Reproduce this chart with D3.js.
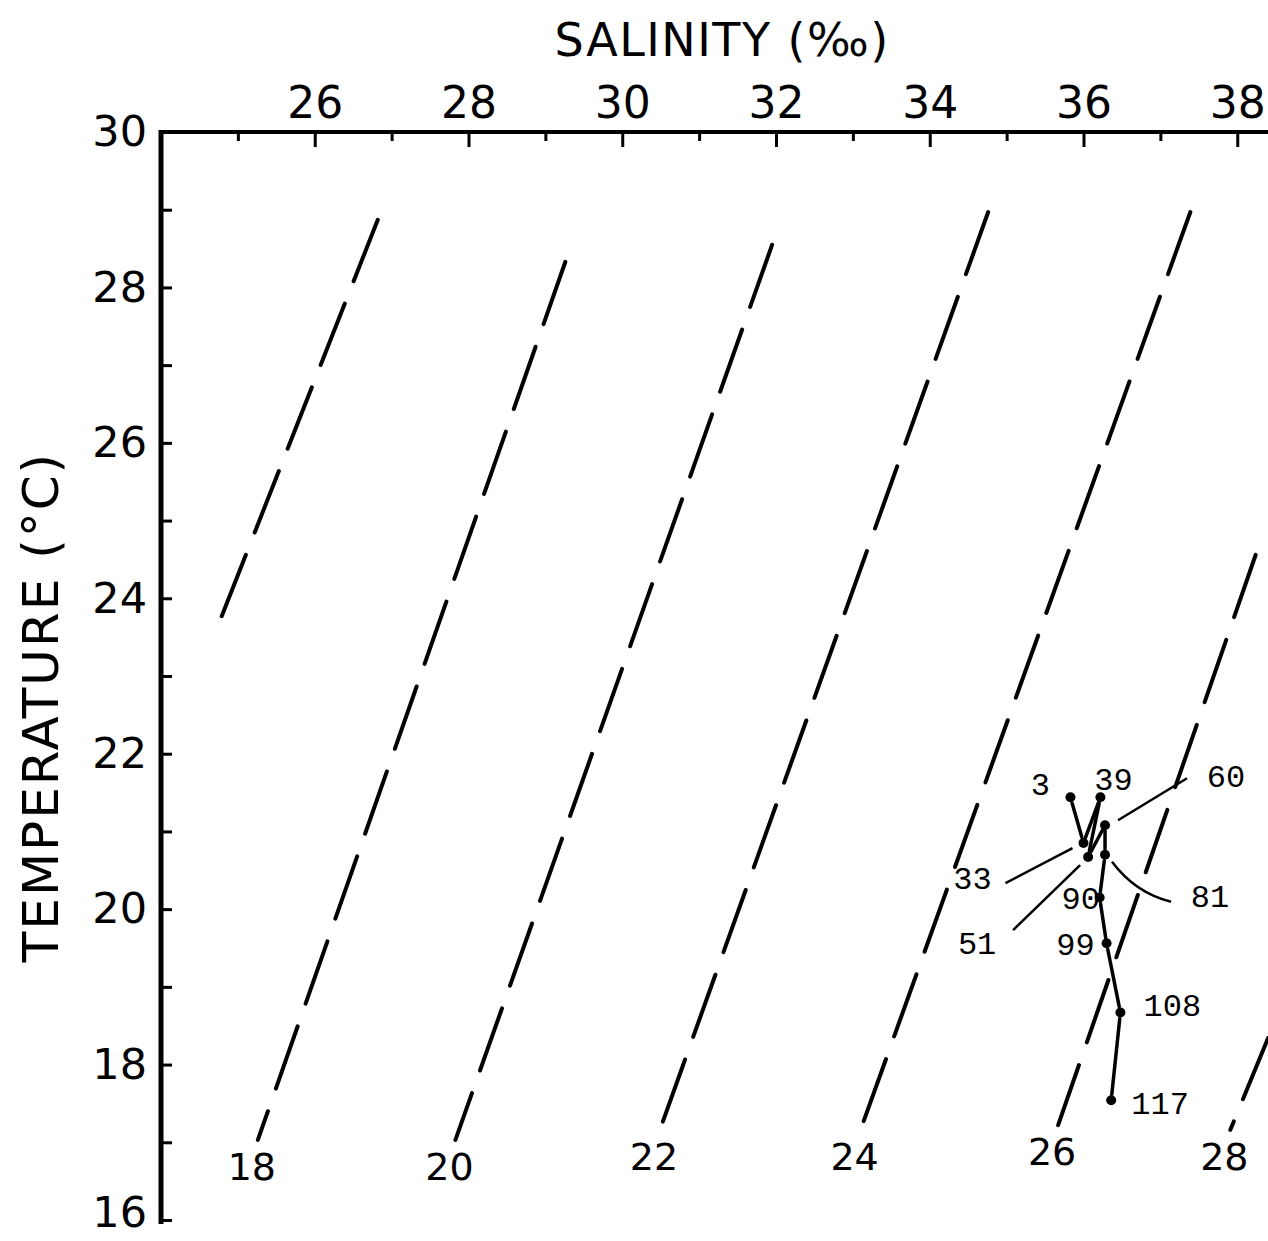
<!DOCTYPE html>
<html lang="en">
<head>
  <meta charset="UTF-8">
  <title>T-S diagram</title>
  <style>
    body { margin: 0; background: #fff; }
  </style>
</head>
<body>
  <script src="https://d3js.org/d3.v7.min.js"></script>
  <script>
    // salinity / temperature ticks
    const salTicks = [26, 28, 30, 32, 34, 36, 38];
    const salMinor = [25, 26, 27, 28, 29, 30, 31, 32, 33, 34, 35, 36, 37, 38];
    const tempTicks = [16, 18, 20, 22, 24, 26, 28, 30];
    const tempMinor = [16, 17, 18, 19, 20, 21, 22, 23, 24, 25, 26, 27, 28, 29, 30];

    // sigma-t isopycnals: [S, T] at low end and high end
    const sigmaT = [16, 18, 20, 22, 24, 26, 28];
    const isoLow = [[24.77, 23.72], [25.26, 17.03], [27.83, 17.03], [30.49, 17.16], [33.10, 17.16], [35.67, 17.22], [37.91, 17.16]];
    const isoHigh = [[26.82, 28.87], [29.26, 28.33], [31.95, 28.55], [34.76, 28.97], [37.39, 28.97], [38.24, 24.56], [38.40, 18.34]];

    // station profile (depth in m)
    const depths = [3, 33, 39, 51, 60, 81, 90, 99, 108, 117];
    const salinity = [35.83, 36.00, 36.22, 36.06, 36.28, 36.28, 36.21, 36.30, 36.48, 36.36];
    const temperature = [21.44, 20.85, 21.44, 20.67, 21.08, 20.70, 20.15, 19.56, 18.67, 17.54];

    const [width, height] = [1268, 1241];
    const x = d3.scaleLinear().domain([24, 38.4]).range([161, 1268]);
    const y = d3.scaleLinear().domain([16, 30]).range([1220, 132]);

    const svg = d3.select(document.body)
      .append("svg")
      .attr("width", width)
      .attr("height", height)
      .attr("viewBox", [0, 0, width, height]);

    const letter = "'DejaVu Sans', sans-serif";
    const typewriter = "'Liberation Mono', 'DejaVu Sans Mono', monospace";

    svg.append("defs").append("clipPath").attr("id", "plot")
      .append("rect")
      .attr("x", x(24)).attr("y", y(30))
      .attr("width", width - x(24)).attr("height", y(16) - y(30));

    // isopycnals
    const iso = sigmaT.map((s, i) => ({ s, a: isoLow[i], b: isoHigh[i] }));
    svg.append("g")
      .attr("clip-path", "url(#plot)")
      .selectAll("line")
      .data(iso)
      .join("line")
      .attr("x1", d => x(d.b[0])).attr("y1", d => y(d.b[1]))
      .attr("x2", d => x(d.a[0])).attr("y2", d => y(d.a[1]))
      .attr("stroke", "#000")
      .attr("stroke-width", 4)
      .attr("stroke-linecap", "round")
      .attr("stroke-dasharray", "66 24");

    svg.append("g")
      .attr("font-family", letter)
      .attr("font-size", 38)
      .attr("text-anchor", "middle")
      .selectAll("text")
      .data(iso.filter(d => d.s >= 18))
      .join("text")
      .attr("x", d => x(d.a[0]) - 6)
      .attr("y", d => y(d.a[1]) + 40)
      .text(d => d.s);

    // left axis
    svg.append("g")
      .attr("transform", `translate(${x(24)},0)`)
      .call(d3.axisLeft(y).tickValues(tempMinor).tickSize(-11).tickPadding(14).tickFormat(d => tempTicks.includes(d) ? d : ""))
      .call(g => g.select(".domain").attr("stroke-width", 5).attr("d", `M0,${y(30) - 2}V${y(16) + 4}`))
      .call(g => g.selectAll(".tick line").attr("stroke-width", 3))
      .call(g => g.selectAll(".tick text").attr("font-family", letter).attr("font-size", 43).attr("fill", "#000"))
      .call(g => g.selectAll(".tick text").filter(d => d === 16).attr("dy", "0.16em"));

    // top axis
    svg.append("g")
      .attr("transform", `translate(0,${y(30)})`)
      .call(d3.axisTop(x).tickValues(salMinor).tickSize(0).tickPadding(14).tickFormat(d => salTicks.includes(d) ? d : ""))
      .call(g => g.select(".domain").attr("stroke-width", 4).attr("d", `M${x(24) - 2},0H${width}`))
      .call(g => g.selectAll(".tick line")
        .attr("y2", d => salTicks.includes(d) ? 15 : 9)
        .attr("stroke-width", 3))
      .call(g => g.selectAll(".tick text").attr("font-family", letter).attr("font-size", 44).attr("fill", "#000"));

    // axis titles
    svg.append("text")
      .attr("x", x(31.3)).attr("y", 56)
      .attr("text-anchor", "middle")
      .attr("font-family", letter).attr("font-size", 46)
      .attr("letter-spacing", 1.5)
      .text("SALINITY (‰)");

    svg.append("text")
      .attr("transform", `translate(58,${y(22.6)}) rotate(-90)`)
      .attr("text-anchor", "middle")
      .attr("font-family", letter).attr("font-size", 50)
      .attr("letter-spacing", 2)
      .text("TEMPERATURE (°C)");

    // profile
    const pts = depths.map((d, i) => ({ d, px: x(salinity[i]), py: y(temperature[i]) }));
    const gap = 6;
    const segs = d3.pairs(pts).map(([a, b]) => {
      const dx = b.px - a.px, dy = b.py - a.py, len = Math.hypot(dx, dy);
      const ux = dx / len, uy = dy / len;
      return [a.px + ux * gap, a.py + uy * gap, b.px - ux * gap, b.py - uy * gap];
    });
    svg.append("g")
      .attr("stroke", "#000")
      .attr("stroke-width", 3.5)
      .attr("stroke-linecap", "round")
      .selectAll("line")
      .data(segs)
      .join("line")
      .attr("x1", d => d[0]).attr("y1", d => d[1])
      .attr("x2", d => d[2]).attr("y2", d => d[3]);

    svg.append("g")
      .selectAll("circle")
      .data(pts)
      .join("circle")
      .attr("cx", d => d.px).attr("cy", d => d.py)
      .attr("r", 5)
      .attr("fill", "#000");

    // depth labels, offsets from their points (px)
    const labelOffset = {
      3: [-30, -2], 33: [-111, 46], 39: [13, -7], 51: [-111, 97], 60: [121, -38],
      81: [105, 52], 90: [-19, 12], 99: [-31, 12], 108: [52, 3], 117: [49, 14]
    };
    svg.append("g")
      .attr("font-family", typewriter)
      .attr("font-size", 32)
      .attr("text-anchor", "middle")
      .selectAll("text")
      .data(pts)
      .join("text")
      .attr("x", d => d.px + labelOffset[d.d][0])
      .attr("y", d => d.py + labelOffset[d.d][1])
      .text(d => d.d);

    // leader lines
    const leaders = [
      { d: 33, path: [[-11, 5], [-78, 40]] },
      { d: 51, path: [[-8, 8], [-75, 73]] },
      { d: 60, path: [[13, -5], [82, -47]] }
    ];
    const byDepth = new Map(pts.map(p => [p.d, p]));
    svg.append("g")
      .attr("stroke", "#000")
      .attr("stroke-width", 2.5)
      .attr("fill", "none")
      .selectAll("path")
      .data(leaders)
      .join("path")
      .attr("d", l => {
        const p = byDepth.get(l.d);
        return d3.line()(l.path.map(([dx, dy]) => [p.px + dx, p.py + dy]));
      });
    {
      const p = byDepth.get(81);
      svg.append("path")
        .attr("d", `M${p.px + 7},${p.py + 7}Q${p.px + 30},${p.py + 38} ${p.px + 66},${p.py + 47}`)
        .attr("stroke", "#000").attr("stroke-width", 2.5).attr("fill", "none");
    }
  </script>
</body>
</html>
